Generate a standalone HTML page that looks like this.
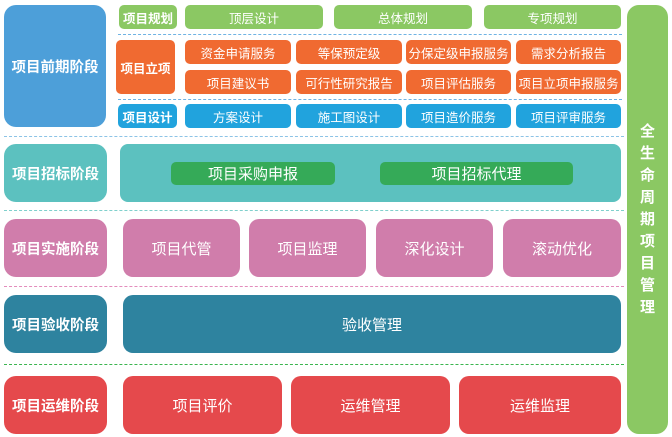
<!DOCTYPE html>
<html><head><meta charset="utf-8"><style>
body{margin:0;width:672px;height:437px;background:#fff;position:relative;overflow:hidden;font-family:"Liberation Sans","Noto Sans CJK SC",sans-serif;}
.b{position:absolute;display:flex;align-items:center;justify-content:center;color:#fff;border-radius:5px;font-size:12.5px;white-space:nowrap;}
.L{font-weight:bold;font-size:14.5px;border-radius:12px;}
.h{position:absolute;height:0;border-top:1.5px dashed;}
</style></head><body>
<div class="b L" style="left:4px;top:5px;width:102px;height:122px;background:#4d9fd9">项目前期阶段</div>
<div class="b L" style="left:4px;top:144px;width:103px;height:58px;background:#5cc1bf">项目招标阶段</div>
<div class="b L" style="left:4px;top:219px;width:103px;height:58px;background:#d07dab">项目实施阶段</div>
<div class="b L" style="left:4px;top:295px;width:103px;height:58px;background:#2e839f">项目验收阶段</div>
<div class="b L" style="left:4px;top:376px;width:103px;height:58px;background:#e5494c">项目运维阶段</div>

<div class="h" style="left:4px;width:620px;top:136px;border-color:#8cc3e6"></div>
<div class="h" style="left:4px;width:620px;top:210px;border-color:#7fd0cc"></div>
<div class="h" style="left:4px;width:620px;top:286px;border-color:#e38cbc"></div>
<div class="h" style="left:4px;width:620px;top:364px;border-color:#3cb550"></div>
<div class="h" style="left:118px;width:504px;top:34px;border-color:#6fb3e4"></div>
<div class="h" style="left:118px;width:504px;top:99px;border-color:#6fb3e4"></div>

<div class="b" style="left:119px;top:5px;width:58px;height:24px;background:#8bc863;font-weight:bold">项目规划</div>
<div class="b" style="left:185px;top:5px;width:138px;height:24px;background:#8bc863">顶层设计</div>
<div class="b" style="left:334px;top:5px;width:138px;height:24px;background:#8bc863">总体规划</div>
<div class="b" style="left:484px;top:5px;width:137px;height:24px;background:#8bc863">专项规划</div>

<div class="b" style="left:116px;top:40px;width:59px;height:54px;background:#f06a31;font-weight:bold">项目立项</div>
<div class="b" style="left:185px;top:40px;width:106px;height:24px;background:#f06a31">资金申请服务</div>
<div class="b" style="left:296px;top:40px;width:106px;height:24px;background:#f06a31">等保预定级</div>
<div class="b" style="left:406px;top:40px;width:105px;height:24px;background:#f06a31">分保定级申报服务</div>
<div class="b" style="left:516px;top:40px;width:105px;height:24px;background:#f06a31">需求分析报告</div>
<div class="b" style="left:185px;top:70px;width:106px;height:24px;background:#f06a31">项目建议书</div>
<div class="b" style="left:296px;top:70px;width:106px;height:24px;background:#f06a31">可行性研究报告</div>
<div class="b" style="left:406px;top:70px;width:105px;height:24px;background:#f06a31">项目评估服务</div>
<div class="b" style="left:516px;top:70px;width:105px;height:24px;background:#f06a31">项目立项申报服务</div>

<div class="b" style="left:118px;top:104px;width:59px;height:24px;background:#21a3dd;font-weight:bold">项目设计</div>
<div class="b" style="left:185px;top:104px;width:106px;height:24px;background:#21a3dd">方案设计</div>
<div class="b" style="left:296px;top:104px;width:106px;height:24px;background:#21a3dd">施工图设计</div>
<div class="b" style="left:406px;top:104px;width:105px;height:24px;background:#21a3dd">项目造价服务</div>
<div class="b" style="left:516px;top:104px;width:105px;height:24px;background:#21a3dd">项目评审服务</div>

<div class="b" style="left:120px;top:144px;width:501px;height:58px;background:#5cc1bf;border-radius:8px"></div>
<div class="b" style="left:171px;top:162px;width:164px;height:23px;background:#35aa58;font-size:15px">项目采购申报</div>
<div class="b" style="left:380px;top:162px;width:193px;height:23px;background:#35aa58;font-size:15px">项目招标代理</div>

<div class="b" style="left:123px;top:219px;width:117px;height:58px;background:#d07dab;border-radius:10px;font-size:15px">项目代管</div>
<div class="b" style="left:249px;top:219px;width:117px;height:58px;background:#d07dab;border-radius:10px;font-size:15px">项目监理</div>
<div class="b" style="left:376px;top:219px;width:117px;height:58px;background:#d07dab;border-radius:10px;font-size:15px">深化设计</div>
<div class="b" style="left:503px;top:219px;width:118px;height:58px;background:#d07dab;border-radius:10px;font-size:15px">滚动优化</div>

<div class="b" style="left:123px;top:295px;width:498px;height:58px;background:#2e839f;border-radius:10px;font-size:15px">验收管理</div>

<div class="b" style="left:123px;top:376px;width:159px;height:58px;background:#e5494c;border-radius:10px;font-size:15px">项目评价</div>
<div class="b" style="left:291px;top:376px;width:159px;height:58px;background:#e5494c;border-radius:10px;font-size:15px">运维管理</div>
<div class="b" style="left:459px;top:376px;width:162px;height:58px;background:#e5494c;border-radius:10px;font-size:15px">运维监理</div>

<div class="b" style="left:627px;top:5px;width:41px;height:429px;background:#8bc863;border-radius:12px;font-weight:bold;font-size:15px;white-space:normal;line-height:22px;text-align:center;padding:0 12px;box-sizing:border-box">全生命周期项目管理</div>
</body></html>
